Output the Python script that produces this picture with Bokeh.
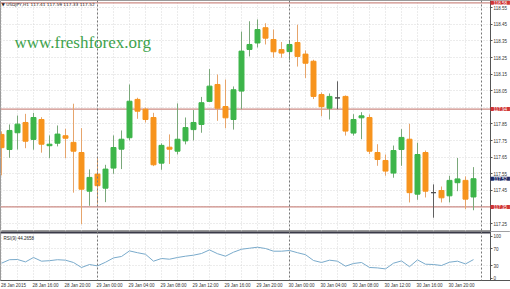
from bokeh.plotting import figure
from bokeh.layouts import column
from bokeh.models import (Range1d, FixedTicker, Span, Label, ColumnDataSource, Grid,
                          LinearAxis, BoxAnnotation)
from bokeh.embed import file_html
from bokeh.resources import INLINE

# ---------------- data (USDJPY, H1, 28 Jan 12:00 .. 30 Jan 23:00) ----------------
bar_index = list(range(60))
opens = [117.787, 117.696, 117.797, 117.859, 117.757, 117.877, 117.719, 117.734, 117.779, 117.739,
         117.678, 117.445, 117.548, 117.463, 117.584, 117.698, 117.767, 117.998, 117.939, 117.889,
         117.614, 117.710, 117.686, 117.748, 117.816, 117.847, 117.986, 118.088, 117.955, 117.877,
         118.048, 118.299, 118.338, 118.430, 118.359, 118.298, 118.286, 118.341, 118.271, 118.228,
         118.027, 117.945, 118.007, 118.016, 117.795, 117.887, 117.889, 117.678, 117.630, 117.554,
         117.696, 117.758, 117.427, 117.678, 117.436, 117.449, 117.417, 117.496, 117.510, 117.410]
highs = [117.805, 117.847, 117.901, 117.911, 117.917, 117.891, 117.781, 117.841, 117.821, 117.972,
         117.825, 117.576, 117.644, 117.604, 117.781, 117.811, 118.088, 118.008, 117.949, 117.917,
         117.733, 117.787, 117.974, 117.889, 117.934, 118.013, 118.181, 118.148, 118.118, 118.076,
         118.407, 118.469, 118.480, 118.457, 118.419, 118.344, 118.357, 118.448, 118.293, 118.237,
         118.040, 118.034, 118.107, 118.022, 117.909, 117.921, 117.907, 117.728, 117.666, 117.720,
         117.819, 117.851, 117.737, 117.690, 117.486, 117.473, 117.538, 117.645, 117.534, 117.590]
lows = [117.540, 117.646, 117.696, 117.704, 117.695, 117.677, 117.644, 117.715, 117.644, 117.436,
        117.246, 117.357, 117.369, 117.379, 117.550, 117.578, 117.751, 117.881, 117.859, 117.596,
        117.574, 117.609, 117.666, 117.727, 117.751, 117.797, 117.983, 117.869, 117.825, 117.816,
        117.939, 118.257, 118.311, 118.329, 118.249, 118.249, 118.235, 118.196, 118.127, 118.000,
        117.897, 117.877, 117.939, 117.780, 117.780, 117.758, 117.668, 117.598, 117.538, 117.526,
        117.598, 117.377, 117.393, 117.407, 117.285, 117.377, 117.377, 117.445, 117.337, 117.330]
closes = [117.707, 117.811, 117.849, 117.746, 117.889, 117.728, 117.728, 117.789, 117.764, 117.686,
          117.457, 117.528, 117.478, 117.578, 117.708, 117.758, 117.987, 117.927, 117.877, 117.604,
          117.721, 117.698, 117.758, 117.828, 117.859, 117.978, 118.078, 117.945, 117.887, 118.056,
          118.289, 118.329, 118.419, 118.367, 118.285, 118.277, 118.329, 118.257, 118.216, 118.016,
          117.954, 118.016, 118.007, 117.807, 117.877, 117.899, 117.686, 117.636, 117.566, 117.690,
          117.769, 117.436, 117.666, 117.445, 117.436, 117.405, 117.510, 117.519, 117.397, 117.520]
rsi_values = [35.7, 44.0, 44.5, 38.8, 49.3, 40.5, 41.7, 44.0, 42.9, 37.4,
              25.5, 32.6, 29.3, 38.0, 48.3, 51.7, 65.0, 60.7, 57.0, 40.5,
              46.9, 45.2, 49.3, 52.4, 54.8, 58.8, 67.4, 58.3, 52.4, 61.9,
              69.0, 71.4, 73.8, 70.7, 64.3, 64.3, 66.0, 60.7, 56.0, 42.1,
              37.4, 42.9, 40.5, 28.6, 35.0, 37.4, 25.5, 24.5, 22.1, 35.7,
              41.2, 27.4, 43.6, 33.3, 32.6, 30.2, 38.1, 40.5, 34.0, 44.27]

time_tick_index = [0, 4, 8, 12, 16, 20, 24, 28, 32, 36, 40, 44, 48, 52, 56]
time_tick_labels = ["28 Jan 2015", "28 Jan 16:00", "28 Jan 20:00", "29 Jan 00:00", "29 Jan 04:00",
                    "29 Jan 08:00", "29 Jan 12:00", "29 Jan 16:00", "29 Jan 20:00", "30 Jan 00:00",
                    "30 Jan 04:00", "30 Jan 08:00", "30 Jan 12:00", "30 Jan 16:00", "30 Jan 20:00"]
day_separators = [12, 36, 60]
price_ticks = [117.25, 117.45, 117.55, 117.65, 117.75, 117.85, 118.05, 118.15, 118.25, 118.35, 118.45, 118.55]
price_grid = [117.25, 117.35, 117.45, 117.55, 117.65, 117.75, 117.85, 117.95, 118.05, 118.15,
              118.25, 118.35, 118.45, 118.55]
hlines = [118.58, 117.94, 117.35]
last_price = 117.52
rsi_ticks = [0, 30, 70, 100]
header_text = "\u25BC USDJPY,H1  117.41 117.59 117.33 117.52"
rsi_text = "RSI(9) 44.2658"

FONT = "Liberation Sans"
GREEN = "#3db54a"
ORANGE = "#f7941d"
GRID = "#d9d9d9"
SCALE_AT = 61.125          # bar position where the price scale starts
X_END = 63.625

body_col, wick_col, tops, bottoms = [], [], [], []
for o, c in zip(opens, closes):
    if c > o:
        body_col.append(GREEN); wick_col.append("#7aa87a")
    elif c < o:
        body_col.append(ORANGE); wick_col.append("#e6a56c")
    else:
        body_col.append("#505050"); wick_col.append("#606060")
    tops.append(max(o, c)); bottoms.append(min(o, c))

src = ColumnDataSource(dict(idx=bar_index, open=opens, high=highs, low=lows, close=closes,
                            top=tops, bottom=bottoms, bc=body_col, wc=wick_col))

xr = Range1d(-0.125, X_END)


def style_scale(ax):
    ax.major_label_text_font = FONT
    ax.major_label_text_font_size = "4.5px"
    ax.major_label_text_color = "#333333"
    ax.major_tick_out = 2
    ax.major_tick_in = 0
    ax.minor_tick_out = 0
    ax.minor_tick_in = 0
    ax.major_label_standoff = 1
    ax.axis_line_color = "#555555"
    ax.major_tick_line_color = "#555555"


# ---------------- main price panel ----------------
p1 = figure(frame_width=510, frame_height=231, x_range=xr, y_range=Range1d(117.202, 118.594),
            output_backend="svg", toolbar_location=None, x_axis_location=None,
            y_axis_location=None, min_border_left=0, min_border_right=0,
            min_border_top=0, min_border_bottom=0)
p1.grid.visible = False
p1.outline_line_color = "#9a9a9a"
p1.add_layout(Grid(dimension=0, ticker=FixedTicker(ticks=[i for i in bar_index if i % 2 == 0]),
                   grid_line_color=GRID, grid_line_dash="1 2"))
p1.add_layout(Grid(dimension=1, ticker=FixedTicker(ticks=price_grid),
                   grid_line_color=GRID, grid_line_dash="1 2"))
for loc in hlines:
    p1.add_layout(Span(location=loc, dimension="width", line_color="#cd8c86", line_width=1.3,
                       level="underlay"))
p1.add_layout(BoxAnnotation(left=SCALE_AT, right=X_END + 1, fill_color="white", fill_alpha=1,
                            line_color=None, level="underlay"))
for loc in day_separators:
    p1.add_layout(Span(location=loc, dimension="height", line_color="#777777",
                       line_dash="2 2", line_width=1))

ax = LinearAxis(fixed_location=SCALE_AT, ticker=FixedTicker(ticks=price_ticks))
style_scale(ax)
p1.add_layout(ax, "right")

p1.segment(x0="idx", y0="low", x1="idx", y1="high", line_color="wc", line_width=1, source=src)
p1.vbar(x="idx", width=0.62, top="top", bottom="bottom", fill_color="bc", line_color="bc",
        line_width=1, source=src)

p1.add_layout(Label(x=14, y=231 - 42, x_units="screen", y_units="screen",
                    text="www.freshforex.org", text_font="Liberation Serif",
                    text_font_size="17px", text_color="#3ea24c", text_baseline="alphabetic"))
p1.add_layout(Label(x=1, y=227, x_units="screen", y_units="screen", text=header_text,
                    text_font="DejaVu Sans", text_font_size="4.3px", text_color="#222222",
                    text_baseline="middle"))
for loc in hlines:
    p1.add_layout(Label(x=490, y=loc, x_units="screen", y_units="data", text=f"{loc:.2f}",
                        text_font=FONT, text_font_size="4.5px", text_color="white",
                        text_baseline="middle", background_fill_color="#d03535",
                        padding=dict(x=3, y=0)))
p1.add_layout(Label(x=490, y=last_price, x_units="screen", y_units="data", text=f"{last_price:.2f}",
                    text_font=FONT, text_font_size="4.5px", text_color="white",
                    text_baseline="middle", background_fill_color="#1f2a66",
                    padding=dict(x=3, y=0)))

# ---------------- RSI panel ----------------
p2 = figure(frame_width=510, frame_height=49, x_range=xr, y_range=Range1d(-5.5, 111.2),
            output_backend="svg", toolbar_location=None, x_axis_location="below",
            y_axis_location=None, min_border_left=0, min_border_right=0,
            min_border_top=0, min_border_bottom=9)
p2.grid.visible = False
p2.outline_line_color = "#9a9a9a"
p2.add_layout(Grid(dimension=0, ticker=FixedTicker(ticks=[i for i in bar_index if i % 2 == 0]),
                   grid_line_color=GRID, grid_line_dash="1 2"))
p2.add_layout(Grid(dimension=1, ticker=FixedTicker(ticks=[30, 70]),
                   grid_line_color=GRID, grid_line_dash="1 2"))
p2.add_layout(Span(location=108.8, dimension="width", line_color="#3a3a48", line_width=2,
                   level="underlay"))
p2.add_layout(BoxAnnotation(left=SCALE_AT, right=X_END + 1, fill_color="white", fill_alpha=1,
                            line_color=None, level="underlay"))
for loc in day_separators:
    p2.add_layout(Span(location=loc, dimension="height", line_color="#777777",
                       line_dash="2 2", line_width=1))

ry = LinearAxis(fixed_location=SCALE_AT, ticker=FixedTicker(ticks=rsi_ticks))
style_scale(ry)
p2.add_layout(ry, "right")

rx = p2.xaxis[0]
tick_pos = [t + 1.5 for t in time_tick_index]
rx.ticker = FixedTicker(ticks=tick_pos)
rx.major_label_overrides = {pos: lab for pos, lab in zip(tick_pos, time_tick_labels)}
rx.major_label_text_font = FONT
rx.major_label_text_font_size = "4.5px"
rx.major_label_text_color = "#333333"
rx.major_tick_out = 0
rx.major_tick_in = 0
rx.minor_tick_out = 0
rx.minor_tick_in = 0
rx.major_label_standoff = 2
rx.axis_line_color = "#555555"

p2.line(bar_index, rsi_values, line_color="#79aacb", line_width=1)
p2.add_layout(Label(x=3, y=42, x_units="screen", y_units="screen", text=rsi_text,
                    text_font=FONT, text_font_size="4.5px", text_color="#222222",
                    text_baseline="middle"))

layout = column(p1, p2, spacing=0)
open("out.html", "w").write(file_html(layout, INLINE))
